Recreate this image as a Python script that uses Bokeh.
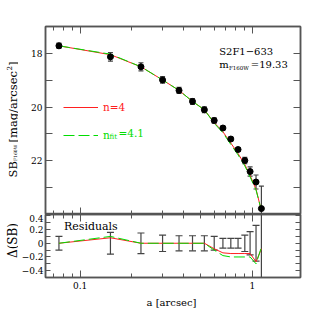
from math import pi
from bokeh.plotting import figure
from bokeh.models import (Range1d, FixedTicker, LogAxis, LinearAxis, Label, Legend,
                          LegendItem, CustomJSTickFormatter)
from bokeh.layouts import column, row
from bokeh.embed import file_html
from bokeh.resources import INLINE

# ---- data ----
a_arcsec = [0.0754, 0.150, 0.2255, 0.301, 0.375, 0.449, 0.526, 0.600,
            0.674, 0.749, 0.825, 0.903, 0.969, 1.049, 1.127]
sb = [17.72, 18.13, 18.50, 18.99, 19.38, 19.79, 20.10, 20.50,
      20.78, 21.19, 21.58, 21.99, 22.40, 22.79, 23.78]
sb_err = [0.10, 0.16, 0.15, 0.12, 0.11, 0.11, 0.11, 0.10,
          0.07, 0.07, 0.07, 0.12, 0.17, 0.26, 0.84]
model_n4 = [17.72, 18.05, 18.50, 18.99, 19.38, 19.79, 20.10, 20.58,
            20.92, 21.34, 21.73, 22.14, 22.55, 23.06, 23.86]
model_fit = [17.72, 18.03, 18.50, 18.99, 19.38, 19.79, 20.10, 20.60,
             20.96, 21.39, 21.78, 22.19, 22.60, 23.09, 23.84]
res_n4 = [0, 0.08, 0, 0, 0, 0, 0, -0.08, -0.14, -0.15, -0.15, -0.15, -0.15, -0.27, -0.08]
res_fit = [0, 0.10, 0, 0, 0, 0, 0, -0.10, -0.18, -0.20, -0.20, -0.20, -0.20, -0.30, -0.06]

x_major = [0.1, 1]
x_minor = [0.07, 0.08, 0.09, 0.2, 0.3, 0.4, 0.5, 0.6, 0.7, 0.8, 0.9]
sb_major = [18, 20, 22]
sb_minor = [17, 19, 21, 23, 24]
res_major = [-0.4, -0.2, 0, 0.2, 0.4]
res_minor = [-0.5, -0.3, -0.1, 0.1, 0.3]

FONT = "DejaVu Serif"
AX = "#555555"
RED = "#ff2020"
GREEN = "#00dd00"
EB = "#444444"
TICK_FS = "9px"

x_range = Range1d(0.063, 1.9)


def style(ax, labels, tick_in, minor_in, fmt=None, standoff=3):
    ax.axis_line_color = AX
    ax.axis_line_width = 1.5
    ax.major_tick_line_color = AX
    ax.minor_tick_line_color = AX
    ax.major_tick_line_width = 1
    ax.minor_tick_line_width = 1
    ax.major_tick_in = tick_in
    ax.major_tick_out = 0
    ax.minor_tick_in = minor_in
    ax.minor_tick_out = 0
    ax.major_label_text_font = FONT
    ax.major_label_text_color = "black"
    if labels:
        ax.major_label_text_font_size = TICK_FS
        ax.major_label_standoff = standoff
        if fmt is not None:
            ax.formatter = CustomJSTickFormatter(code=fmt)
    else:
        ax.major_label_text_font_size = "0px"
        ax.major_label_standoff = 0
        ax.formatter = CustomJSTickFormatter(code="return ''")


def make_fig(height, yr, top, bottom):
    p = figure(width=298, height=height, x_axis_type="log", x_range=x_range, y_range=yr,
               output_backend="svg", toolbar_location=None,
               x_axis_location=None, y_axis_location=None,
               min_border_left=25, min_border_right=16,
               min_border_top=top, min_border_bottom=bottom)
    for g in p.grid:
        g.visible = False
    p.outline_line_color = AX
    p.outline_line_width = 1.5
    p.background_fill_color = "white"
    p.border_fill_color = "white"
    return p


def strip(w, h):
    s = figure(width=w, height=h, x_range=Range1d(0, w), y_range=Range1d(0, h),
               output_backend="svg", toolbar_location=None, min_border=0,
               min_border_left=0, min_border_right=0, min_border_top=0, min_border_bottom=0,
               x_axis_location=None, y_axis_location=None)
    for g in s.grid:
        g.visible = False
    s.outline_line_color = None
    s.background_fill_color = "white"
    s.border_fill_color = "white"
    return s


def lab(p, text, x, y, size, color="black", angle=0, align="left", baseline="middle",
        units="screen"):
    p.add_layout(Label(x=x, y=y, x_units=units, y_units=units, text=text,
                       text_font=FONT, text_font_size=size, text_color=color,
                       angle=angle, text_align=align, text_baseline=baseline))


x_fmt = "return String(tick)"

# ---------------- main panel ----------------
p1 = make_fig(214, Range1d(24, 17), 26, 0)
for loc in ["below", "above"]:
    ax = LogAxis(ticker=FixedTicker(ticks=x_major, minor_ticks=x_minor))
    style(ax, False, 7, 4)
    p1.add_layout(ax, loc)
for loc, labs in [("left", True), ("right", False)]:
    ax = LinearAxis(ticker=FixedTicker(ticks=sb_major, minor_ticks=sb_minor))
    style(ax, labs, 7, 7, "return tick.toFixed(0)")
    p1.add_layout(ax, loc)

lo = [s - e for s, e in zip(sb, sb_err)]
hi = [s + e for s, e in zip(sb, sb_err)]
p1.segment(x0=a_arcsec, y0=lo, x1=a_arcsec, y1=hi, line_color=EB, line_width=1.2)
p1.scatter(a_arcsec, lo, marker="dash", size=5, line_color=EB, line_width=1.2)
p1.scatter(a_arcsec, hi, marker="dash", size=5, line_color=EB, line_width=1.2)
r_red = p1.line(a_arcsec, model_n4, line_color=RED, line_width=1)
r_green = p1.line(a_arcsec, model_fit, line_color=GREEN, line_width=1, line_dash="11 4")
p1.scatter(a_arcsec, sb, size=6, fill_color="black", line_color="black")

for item_label, rend, ly, col in [("n=4", r_red, 101, RED), ("n", r_green, 73, GREEN)]:
    leg = Legend(items=[LegendItem(label=item_label, renderers=[rend])], location=(18, ly),
                 glyph_width=35, glyph_height=12, label_standoff=5, label_height=12,
                 label_text_color=col, label_text_font=FONT, label_text_font_size="10.5px",
                 background_fill_alpha=0, border_line_alpha=0, padding=0, margin=0, spacing=0)
    p1.add_layout(leg)

lab(p1, "fit", 64, 78, "7px", GREEN)
lab(p1, "=4.1", 73, 82, "10.5px", GREEN)

lab(p1, "S2F1\u2212633", 173.7, 163.5, "10px")
lab(p1, "m", 173.7, 150, "10px")
lab(p1, "F160W", 183.5, 147, "5.5px")
lab(p1, "=19.33", 205.3, 150, "10px")

# ---------------- residual panel ----------------
p2 = make_fig(81, Range1d(-0.5, 0.42), 0, 18)
for loc, labs in [("below", True), ("above", False)]:
    ax = LogAxis(ticker=FixedTicker(ticks=x_major, minor_ticks=x_minor))
    style(ax, labs, 7, 4, x_fmt, standoff=4)
    p2.add_layout(ax, loc)
res_fmt = "return tick == 0 ? '0' : tick.toFixed(1).replace('-', '\u2212')"
for loc, labs in [("left", True), ("right", False)]:
    ax = LinearAxis(ticker=FixedTicker(ticks=res_major, minor_ticks=res_minor))
    style(ax, labs, 5, 5, res_fmt, standoff=2)
    p2.add_layout(ax, loc)

rlo = [-e for e in sb_err]
rhi = [e for e in sb_err]
p2.segment(x0=a_arcsec, y0=rlo, x1=a_arcsec, y1=rhi, line_color=EB, line_width=1.2)
p2.scatter(a_arcsec, rlo, marker="dash", size=7, line_color=EB, line_width=1.2)
p2.scatter(a_arcsec, rhi, marker="dash", size=7, line_color=EB, line_width=1.2)
p2.line(a_arcsec, res_n4, line_color=RED, line_width=1)
p2.line(a_arcsec, res_fit, line_color=GREEN, line_width=1, line_dash="11 4")

lab(p2, "Residuals", 0.0806, 0.244, "11px", units="data")

# ---------------- axis-title strips ----------------
left = strip(18, 316)
lab(left, "SB", 12, 139, "11.5px", angle=pi / 2)
lab(left, "F160W", 15, 155.5, "4.5px", angle=pi / 2)
lab(left, "[mag/arcsec", 12, 174, "11.5px", angle=pi / 2)
lab(left, "2", 8, 246, "7px", angle=pi / 2)
lab(left, "]", 12, 250.5, "11.5px", angle=pi / 2)
lab(left, "\u0394(SB)", 12, 76, "12px", angle=pi / 2, align="center")

bottom = strip(298, 21)
lab(bottom, "a [arcsec]", 101, 14, "10px")

layout = row(left, column(p1, p2, bottom, spacing=0), spacing=0)
open("out.html", "w").write(file_html(layout, INLINE))
